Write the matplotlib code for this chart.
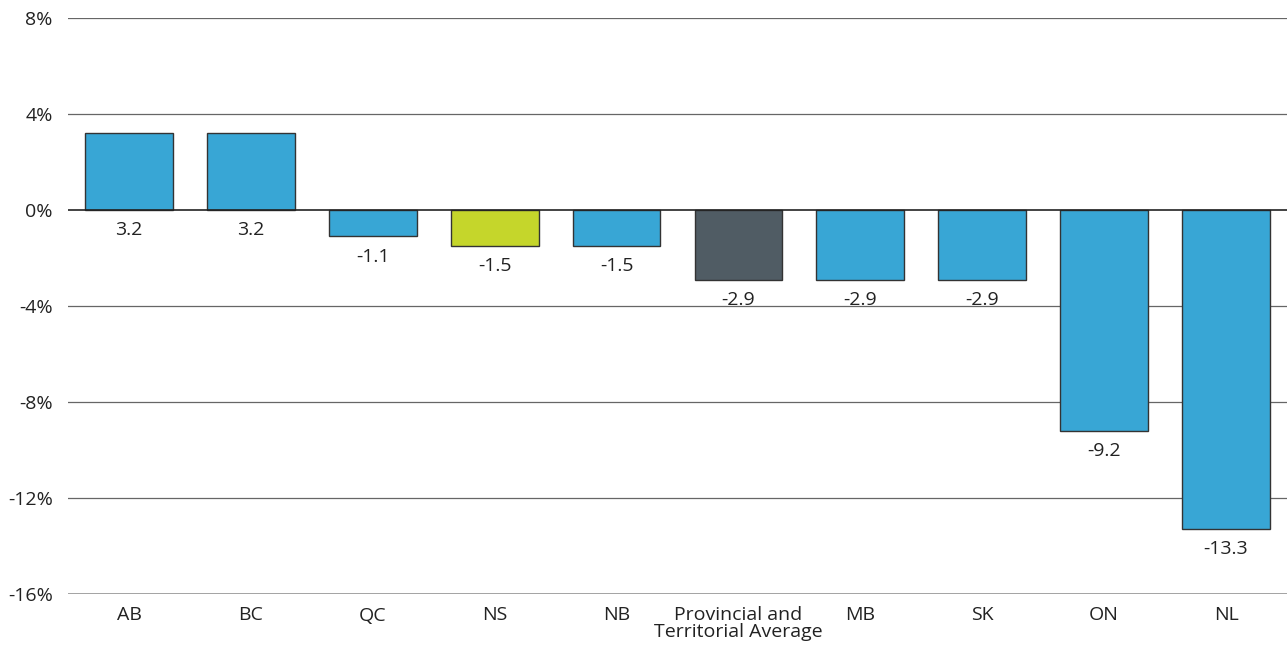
import matplotlib
matplotlib.use('Agg')
import matplotlib.pyplot as plt

plt.rcParams['font.family'] = ['Open Sans', 'DejaVu Sans']

# data
categories = ['AB', 'BC', 'QC', 'NS', 'NB', 'Provincial and\nTerritorial Average',
              'MB', 'SK', 'ON', 'NL']
values = [3.2, 3.2, -1.1, -1.5, -1.5, -2.9, -2.9, -2.9, -9.2, -13.3]
labels = ['3.2', '3.2', '-1.1', '-1.5', '-1.5', '-2.9', '-2.9', '-2.9', '-9.2', '-13.3']
yticks = [8, 4, 0, -4, -8, -12, -16]

BLUE = '#38a6d5'
GREEN = '#c5d62b'
DARK = '#505c64'
colors = [BLUE, BLUE, BLUE, GREEN, BLUE, DARK, BLUE, BLUE, BLUE, BLUE]

fig = plt.figure(figsize=(12.87, 6.49), dpi=100)
ax = fig.add_axes([68 / 1287, 55 / 649, 1 - 68 / 1287, 576 / 649])

x = range(len(categories))
ax.bar(x, values, width=0.72, color=colors, edgecolor='#333333', linewidth=1.0, zorder=3)

# value labels below bar end (or below zero line for positive bars)
for i, (v, lab) in enumerate(zip(values, labels)):
    base = min(v, 0)
    ax.annotate(lab, (i, base), xytext=(0, -8), textcoords='offset points',
                ha='center', va='top', fontsize=14, color='#222222')

ax.set_ylim(-16, 8)
ax.set_xlim(-0.5, len(categories) - 0.5)
ax.set_yticks(yticks)
ax.set_yticklabels([f'{t}%' for t in yticks], fontsize=14, color='#222222')
ax.set_xticks(list(x))
ax.set_xticklabels(categories, fontsize=14, color='#222222', linespacing=0.9)
ax.tick_params(axis='both', length=0)
ax.tick_params(axis='y', pad=11)
ax.tick_params(axis='x', pad=9)

for t in yticks:
    if t == 0:
        ax.axhline(t, color='#222222', linewidth=1.2, zorder=4)
    elif t == -16:
        ax.axhline(t, color='#888888', linewidth=1.8, zorder=2)
    else:
        ax.axhline(t, color='#666666', linewidth=0.9, zorder=1)

for s in ax.spines.values():
    s.set_visible(False)

fig.savefig('out.png', dpi=100, facecolor='white')
